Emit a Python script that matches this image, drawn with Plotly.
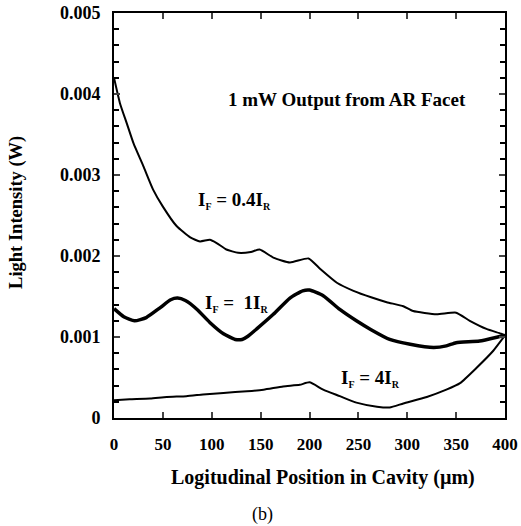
import plotly.graph_objects as go

# Position along cavity (um) and light intensity (mW -> W)
x_a = [0, 6, 13, 20, 30, 40, 50, 64, 78, 88, 98, 105, 115, 127, 140, 149, 163, 180, 199, 211,
       228, 245, 263, 279, 296, 306, 330, 350, 364, 381, 396, 400]
y_a = [4.20, 3.89, 3.64, 3.39, 3.11, 2.82, 2.61, 2.37, 2.23, 2.18, 2.20, 2.16, 2.08, 2.04, 2.05,
       2.08, 1.98, 1.92, 1.97, 1.84, 1.67, 1.57, 1.49, 1.43, 1.38, 1.32, 1.28, 1.30, 1.20, 1.10,
       1.04, 1.02]

x_b = [0, 10, 21, 33, 47, 58, 65, 73, 85, 98, 112, 124, 131, 137, 146, 163, 180, 193, 200, 214,
       231, 248, 263, 282, 303, 327, 340, 350, 374, 396, 400]
y_b = [1.35, 1.25, 1.20, 1.24, 1.36, 1.46, 1.48, 1.45, 1.34, 1.18, 1.04, 0.97, 0.97, 1.01, 1.10,
       1.28, 1.48, 1.57, 1.58, 1.51, 1.34, 1.20, 1.09, 0.97, 0.91, 0.87, 0.89, 0.93, 0.95, 1.01,
       1.02]

x_c = [0, 16, 37, 54, 74, 91, 112, 136, 153, 173, 190, 200, 214, 231, 248, 269, 282, 296, 320,
       340, 354, 371, 388, 400]
y_c = [0.22, 0.23, 0.24, 0.26, 0.27, 0.29, 0.31, 0.33, 0.35, 0.39, 0.41, 0.44, 0.35, 0.27, 0.19,
       0.14, 0.13, 0.18, 0.26, 0.35, 0.43, 0.62, 0.83, 1.02]

x_ticks = [0, 50, 100, 150, 200, 250, 300, 350, 400]
y_ticks = [0, 0.001, 0.002, 0.003, 0.004, 0.005]
y_tick_text = ["0", "0.001", "0.002", "0.003", "0.004", "0.005"]

SERIF = "Liberation Serif"

fig = go.Figure()
for xs, ys, w in [(x_a, y_a, 2), (x_b, y_b, 3.5), (x_c, y_c, 2)]:
    fig.add_trace(go.Scatter(
        x=xs, y=[v / 1000 for v in ys], mode="lines",
        line=dict(color="black", width=w, shape="spline", smoothing=0.5),
        showlegend=False, hoverinfo="skip"))

fig.update_xaxes(
    range=[0, 400], tickvals=x_ticks, ticks="inside", ticklen=6, tickwidth=2,
    showline=True, linewidth=2, linecolor="black", mirror="ticks", showgrid=False,
    zeroline=False, tickfont=dict(family=SERIF, size=17, color="black", weight="bold"),
    ticklabelstandoff=10, ticklabeloverflow="allow")
fig.update_yaxes(
    range=[0, 0.005], tickvals=y_ticks, ticktext=y_tick_text, ticks="inside", ticklen=6,
    tickwidth=2, showline=True, linewidth=2, linecolor="black", mirror="ticks",
    showgrid=False, zeroline=False,
    minor=dict(dtick=0.0002, ticks="inside", ticklen=5, tickwidth=2, tickcolor="black", showgrid=False),
    tickfont=dict(family=SERIF, size=18, color="black", weight="bold"),
    ticklabelstandoff=8, ticklabeloverflow="allow")

bold = dict(family=SERIF, size=19, color="black", weight="bold")
sub = lambda s: '<sub><span style="font-size:10px">' + s + '</span></sub>'
anns = [
    dict(x=238, y=0.00393, xref="x", yref="y", text="1 mW Output from AR Facet", font=bold),
    dict(x=123, y=0.00268, xref="x", yref="y", text="I" + sub("F") + " = 0.4I" + sub("R"), font=bold),
    dict(x=126, y=0.00141, xref="x", yref="y", text="I" + sub("F") + " =  1I" + sub("R"), font=bold),
    dict(x=262, y=0.00049, xref="x", yref="y", text="I" + sub("F") + " = 4I" + sub("R"), font=bold),
    dict(x=0.535, y=-0.147, xref="paper", yref="paper",
         text="Logitudinal Position in Cavity (\u00b5m)", font=dict(family=SERIF, size=20, color="black", weight="bold")),
    dict(x=-0.250, y=0.507, xref="paper", yref="paper", text="Light Intensity (W)", textangle=-90,
         font=dict(family=SERIF, size=18.5, color="black", weight="bold")),
    dict(x=0.379, y=-0.238, xref="paper", yref="paper", text="(b)",
         font=dict(family=SERIF, size=18, color="black")),
]
for a in anns:
    a.update(showarrow=False, xanchor="center", yanchor="middle")
    fig.add_annotation(**a)

fig.update_layout(
    width=521, height=526, plot_bgcolor="white", paper_bgcolor="white",
    margin=dict(l=114, r=16, t=13, b=108, autoexpand=False))

fig.write_html("out.html", config={"displayModeBar": False},
               post_script="document.body.style.margin='0px';")
